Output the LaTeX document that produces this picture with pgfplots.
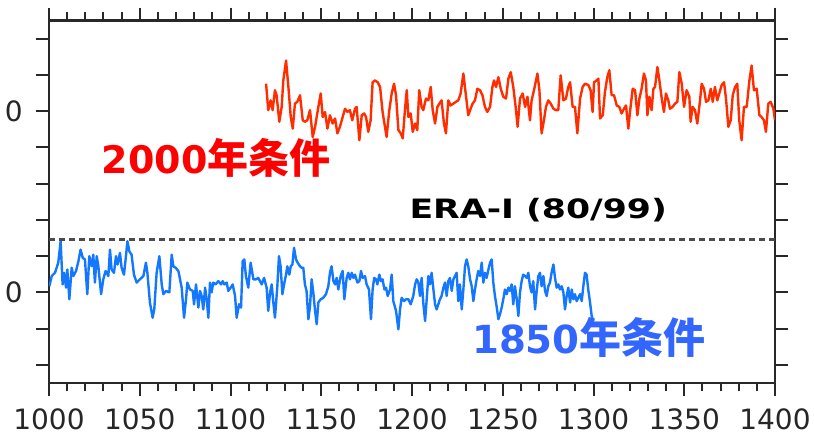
\documentclass[border=0pt]{standalone}
\usepackage{pgfplots}
\pgfplotsset{compat=1.18}
\usepackage{fontspec}
\setmainfont{DejaVu Sans}
\newfontfamily\cjk{Noto Sans CJK JP}
\newfontfamily\widebold[FakeStretch=1.3]{DejaVu Sans}

\definecolor{runred}{RGB}{255,45,0}
\definecolor{runblue}{RGB}{20,120,255}
\definecolor{labred}{RGB}{255,0,0}
\definecolor{labblue}{RGB}{51,102,255}
\definecolor{frame}{RGB}{40,40,40}

\begin{document}
\begin{tikzpicture}
\begin{axis}[
  name=ax,
  scale only axis,
  width=544.5pt, height=271.7pt,
  xmin=1000, xmax=1400, ymin=-2.5, ymax=7.5,
  xtick={1000,1050,...,1400},
  xticklabels={1000,1050,1100,1150,1200,1250,1300,1350,1400},
  minor x tick num=4,
  ytick={-2,-1,0,1,2,3,4,5,6,7},
  yticklabels={,,0,,,,,0,,},
  tick align=outside,
  major tick length=9.75pt,
  minor tick length=6.4pt,
  axis line style={line width=1.8pt, frame},
  tick style={line width=1.5pt, frame},
  ticklabel style={font=\fontsize{21pt}{22pt}\selectfont, text=black!85},
  xticklabel style={yshift=-6pt},
  yticklabel style={xshift=-6.5pt},
  line join=round,
]
% control run (1850 conditions), lower panel
\addplot[runblue, line width=1.8pt, mark=none] coordinates {
(1000.2,0.17)(1001.5,0.45)(1003.3,0.54)(1005.1,0.82)(1006.4,1.41)(1007.5,0.22)(1008.3,0.54)(1009.4,0.13)(1010.1,0.63)(1011.2,-0.19)(1012.5,0.68)(1013.4,0.45)(1014.9,0.59)(1016.2,0.86)(1017.4,1.18)(1018.6,0.95)(1019.8,0.91)(1021.1,-0.05)(1022.2,1.0)(1023.5,0.72)(1024.4,1.04)(1025.3,0.27)(1026.3,1.0)(1027.2,0.72)(1028.7,-0.05)(1029.9,0.36)(1031.2,0.59)(1032.7,0.45)(1033.6,1.18)(1034.5,0.63)(1035.8,0.54)(1036.9,1.0)(1037.8,0.77)(1039.1,1.09)(1040.0,0.68)(1041.3,0.49)(1042.4,1.0)(1043.2,1.41)(1044.3,1.13)(1045.5,1.04)(1046.8,0.49)(1048.3,0.27)(1050.1,0.36)(1052.0,0.45)(1053.4,0.82)(1054.2,0.54)(1055.6,-0.28)(1057.1,-0.70)(1058.0,-0.47)(1059.3,0.54)(1060.8,1.0)(1062.1,0.22)(1063.0,-0.05)(1064.5,0.04)(1066.3,0.0)(1067.6,1.04)(1068.5,0.72)(1069.8,0.68)(1071.3,0.59)(1073.1,0.13)(1074.4,-0.70)(1075.5,-0.19)(1076.2,0.27)(1077.7,0.08)(1079.2,0.04)(1079.9,-0.33)(1081.0,0.22)(1082.3,-0.42)(1083.2,0.04)(1084.1,-0.10)(1085.0,-0.47)(1086.0,0.13)(1086.9,-0.19)(1087.8,-0.70)(1088.7,0.27)(1089.6,0.0)(1090.5,0.27)(1091.8,0.22)(1093.3,0.31)(1094.8,0.22)(1095.7,0.31)(1096.6,0.22)(1097.9,0.27)(1098.8,0.04)(1100.1,0.13)(1101.2,0.22)(1102.5,-0.10)(1103.4,-0.70)(1104.7,-0.33)(1105.8,-0.42)(1106.7,0.86)(1107.6,0.91)(1108.5,0.45)(1109.8,0.13)(1111.1,0.82)(1112.6,0.36)(1114.0,0.36)(1115.3,0.40)(1117.2,0.22)(1118.5,0.40)(1119.9,0.13)(1120.8,-0.51)(1121.8,0.0)(1122.7,0.22)(1123.6,-0.28)(1124.5,-0.70)(1125.8,0.17)(1126.7,1.0)(1127.6,0.72)(1128.6,-0.05)(1129.7,0.27)(1130.6,0.49)(1131.3,0.72)(1132.4,0.49)(1133.2,0.72)(1134.1,0.77)(1135.0,1.23)(1136.1,0.91)(1137.0,0.82)(1138.3,0.72)(1139.2,0.68)(1140.1,0.68)(1141.0,0.22)(1141.9,0.04)(1142.9,-0.74)(1143.8,-0.38)(1144.7,0.36)(1145.6,0.0)(1146.6,-0.51)(1147.5,-0.88)(1148.4,-0.28)(1149.7,-0.19)(1151.1,-0.15)(1152.6,-0.05)(1153.9,0.17)(1154.8,0.54)(1155.7,0.72)(1156.7,0.31)(1157.6,0.22)(1158.5,0.40)(1159.4,0.08)(1160.7,0.45)(1161.8,0.59)(1162.7,-0.19)(1164.0,0.40)(1164.9,0.54)(1165.8,0.36)(1166.8,0.54)(1167.7,0.40)(1168.6,0.49)(1169.9,0.27)(1171.0,0.31)(1171.9,0.59)(1172.8,0.40)(1174.1,0.45)(1175.0,0.22)(1176.3,0.08)(1177.4,-0.74)(1178.3,0.08)(1179.2,0.40)(1180.2,0.36)(1180.9,0.22)(1182.0,0.49)(1182.9,0.31)(1183.8,0.36)(1184.8,0.08)(1185.7,0.13)(1186.6,-0.10)(1187.9,0.08)(1188.8,0.49)(1189.7,-0.24)(1191.2,-0.51)(1192.5,-1.02)(1193.4,-0.47)(1194.3,-0.15)(1195.6,-0.24)(1196.7,-0.19)(1198.0,-0.19)(1199.3,-0.33)(1200.7,-0.10)(1201.7,0.22)(1202.6,0.36)(1203.5,0.27)(1204.4,-0.10)(1205.3,0.40)(1206.2,-0.28)(1207.2,-0.79)(1208.1,-0.19)(1209.0,0.45)(1209.9,0.22)(1210.8,0.54)(1211.8,0.08)(1212.7,-0.33)(1213.6,-0.47)(1214.5,-0.33)(1215.4,-0.19)(1216.3,-0.10)(1217.3,0.13)(1218.2,0.27)(1219.1,-0.10)(1220.0,0.31)(1220.9,0.40)(1221.9,0.04)(1222.8,0.36)(1223.7,0.45)(1224.6,0.54)(1225.5,-0.24)(1226.4,0.22)(1227.4,-0.47)(1228.3,0.08)(1229.2,0.72)(1230.1,0.91)(1231.0,0.72)(1232.0,0.36)(1232.9,0.17)(1233.8,-0.24)(1234.7,0.08)(1235.6,0.36)(1236.5,0.59)(1237.5,0.45)(1238.4,0.82)(1239.3,0.27)(1240.2,0.54)(1241.1,0.40)(1242.1,0.63)(1243.0,0.82)(1243.9,0.91)(1244.8,0.27)(1245.7,-0.10)(1246.6,-0.38)(1247.6,-0.74)(1248.5,-0.60)(1249.4,-0.42)(1250.3,-0.19)(1251.2,0.08)(1252.2,-0.05)(1253.1,0.13)(1254.0,0.04)(1254.9,0.22)(1255.8,-0.33)(1256.7,0.17)(1257.7,-0.19)(1258.6,-0.65)(1259.5,0.0)(1260.4,0.31)(1261.3,0.49)(1262.3,0.45)(1263.2,0.40)(1264.1,0.54)(1265.0,0.17)(1265.9,0.0)(1266.8,0.31)(1267.8,-0.47)(1268.7,0.04)(1269.6,0.45)(1270.5,0.54)(1271.4,0.17)(1272.4,0.45)(1273.3,0.04)(1274.2,-0.10)(1275.1,0.17)(1276.0,0.27)(1276.9,0.54)(1277.9,0.77)(1278.8,0.40)(1279.7,0.13)(1280.6,0.22)(1281.5,0.08)(1282.5,0.17)(1283.4,0.0)(1284.3,-0.47)(1285.2,-0.10)(1286.1,0.13)(1287.1,-0.28)(1288.0,0.08)(1288.9,-0.19)(1289.8,-0.05)(1290.7,-0.24)(1291.6,-0.15)(1292.6,-0.05)(1293.5,-0.24)(1294.4,0.17)(1295.3,0.54)(1296.2,0.49)(1297.1,0.08)(1298.1,-0.28)(1299.0,-0.65)(1299.9,-0.79)
};
% present-day run (2000 conditions), upper panel offset by 5
\addplot[runred, line width=1.8pt, mark=none] coordinates {
(1119.6,5.76)(1120.8,5.03)(1122.1,5.30)(1123.2,5.03)(1124.5,5.58)(1125.4,5.44)(1126.9,4.71)(1128.2,5.12)(1129.1,5.85)(1130.6,6.40)(1131.9,5.67)(1133.2,4.84)(1134.3,4.52)(1135.5,5.21)(1136.8,5.26)(1138.3,5.44)(1139.8,4.75)(1141.0,4.71)(1142.3,4.75)(1143.8,5.03)(1145.3,4.29)(1146.6,4.57)(1148.4,5.12)(1149.7,5.49)(1150.8,4.84)(1152.1,4.98)(1153.4,4.52)(1154.8,4.89)(1156.3,4.66)(1157.6,4.80)(1158.9,4.39)(1160.3,4.57)(1161.8,4.84)(1163.1,5.07)(1164.4,4.98)(1165.8,5.03)(1167.1,4.75)(1168.6,5.07)(1169.5,5.12)(1171.0,4.20)(1172.3,4.89)(1173.6,4.94)(1174.7,4.84)(1175.9,4.43)(1177.2,4.75)(1178.3,5.80)(1179.6,5.85)(1181.1,5.80)(1182.4,5.67)(1183.8,4.98)(1185.1,4.57)(1186.0,4.29)(1187.5,5.03)(1188.8,5.49)(1190.1,5.76)(1191.2,5.44)(1192.5,4.48)(1193.8,4.39)(1194.9,4.25)(1196.1,5.03)(1197.1,5.58)(1198.0,4.84)(1199.3,4.94)(1200.4,4.43)(1201.7,4.66)(1202.9,4.48)(1204.0,5.58)(1205.3,5.12)(1206.2,5.03)(1207.7,5.35)(1209.0,5.30)(1210.3,5.67)(1211.4,5.03)(1212.7,4.66)(1214.0,5.12)(1215.1,5.21)(1216.3,5.30)(1217.6,4.66)(1218.7,4.39)(1220.0,5.30)(1221.3,5.16)(1222.8,5.21)(1224.2,5.26)(1225.5,5.30)(1226.8,5.49)(1228.3,6.04)(1229.8,5.40)(1231.0,4.89)(1232.3,5.07)(1233.4,5.21)(1234.7,5.30)(1236.0,5.62)(1237.5,5.58)(1238.8,5.44)(1240.2,5.12)(1241.5,4.98)(1243.0,5.12)(1244.3,5.67)(1245.2,5.85)(1246.3,5.67)(1247.6,5.94)(1248.9,5.62)(1250.3,5.40)(1251.8,5.35)(1253.1,5.90)(1254.4,6.08)(1255.8,5.67)(1257.1,5.12)(1258.2,4.57)(1259.5,5.35)(1261.0,5.49)(1262.3,5.12)(1263.6,5.40)(1265.0,4.75)(1265.9,5.30)(1267.2,5.58)(1269.1,6.04)(1270.2,5.58)(1271.4,4.39)(1272.7,4.75)(1273.8,5.12)(1275.1,5.30)(1276.4,5.21)(1277.9,5.07)(1279.3,5.03)(1280.6,5.03)(1281.9,5.99)(1283.4,5.30)(1284.8,5.35)(1286.1,5.67)(1287.1,5.80)(1288.5,5.12)(1289.8,5.12)(1291.1,4.39)(1292.6,5.35)(1294.0,5.67)(1295.3,5.76)(1297.2,5.72)(1298.4,5.58)(1299.5,4.98)(1300.3,5.80)(1301.7,5.85)(1302.7,5.90)(1303.6,4.80)(1305.1,4.89)(1306.3,5.53)(1307.6,5.94)(1308.7,6.13)(1310.0,5.44)(1311.3,5.44)(1312.8,5.16)(1314.2,5.12)(1315.5,4.94)(1316.8,5.07)(1317.9,5.16)(1319.2,4.52)(1320.1,4.98)(1321.6,5.62)(1322.9,5.58)(1324.2,4.89)(1325.3,5.35)(1326.5,5.62)(1327.8,6.04)(1328.9,5.85)(1329.7,4.89)(1330.8,5.40)(1332.0,5.03)(1333.0,5.62)(1333.9,5.67)(1335.2,6.22)(1336.3,5.85)(1337.6,5.35)(1338.8,4.98)(1339.9,5.49)(1341.2,5.30)(1342.1,5.07)(1343.6,5.12)(1344.9,5.21)(1346.2,5.26)(1347.3,6.08)(1348.6,5.76)(1349.9,5.12)(1351.3,5.58)(1352.8,5.40)(1353.5,4.71)(1354.6,5.12)(1355.9,5.03)(1357.2,4.66)(1358.7,5.30)(1359.6,5.76)(1360.9,5.62)(1362.0,5.26)(1363.3,5.30)(1364.6,5.62)(1365.7,5.26)(1366.9,5.67)(1368.2,5.30)(1369.3,5.49)(1370.6,5.72)(1371.9,5.80)(1373.0,5.35)(1374.3,4.57)(1375.6,4.75)(1376.7,5.44)(1378.0,5.67)(1379.2,5.76)(1380.3,4.75)(1381.6,4.20)(1382.9,5.12)(1384.4,5.12)(1385.9,5.85)(1387.1,6.26)(1388.4,5.58)(1389.9,5.62)(1391.4,4.89)(1392.6,4.84)(1393.9,4.75)(1395.0,4.43)(1396.3,5.21)(1397.6,5.26)(1399.1,5.07)(1400.0,4.75)
};
% reanalysis reference level
\addplot[black!70, line width=1.6pt, dash pattern=on 4.5pt off 3pt, mark=none]
  coordinates {(1000,1.46) (1400,1.46)};

\node[anchor=base west, inner sep=0pt, text=labred] at (axis cs:1029,3.29)
  {\fontsize{28.5pt}{30pt}\bfseries 2000{\cjk\fontsize{30.75pt}{32pt}\bfseries 年条件}};
\node[anchor=base west, inner sep=0pt, text=labblue] at (axis cs:1233,-1.70)
  {\fontsize{29pt}{30pt}\bfseries 1850{\cjk\fontsize{31.5pt}{32pt}\bfseries 年条件}};
\node[anchor=base west, inner sep=0pt, text=black] at (axis cs:1198.5,2.05)
  {\widebold\fontsize{20pt}{21pt}\bfseries ERA-I (80/99)};
\end{axis}
\pgfresetboundingbox
\path[use as bounding box] ([xshift=-36.75pt,yshift=-39pt]ax.south west)
  rectangle ([xshift=29.25pt,yshift=15.5pt]ax.north east);
\end{tikzpicture}
\end{document}
